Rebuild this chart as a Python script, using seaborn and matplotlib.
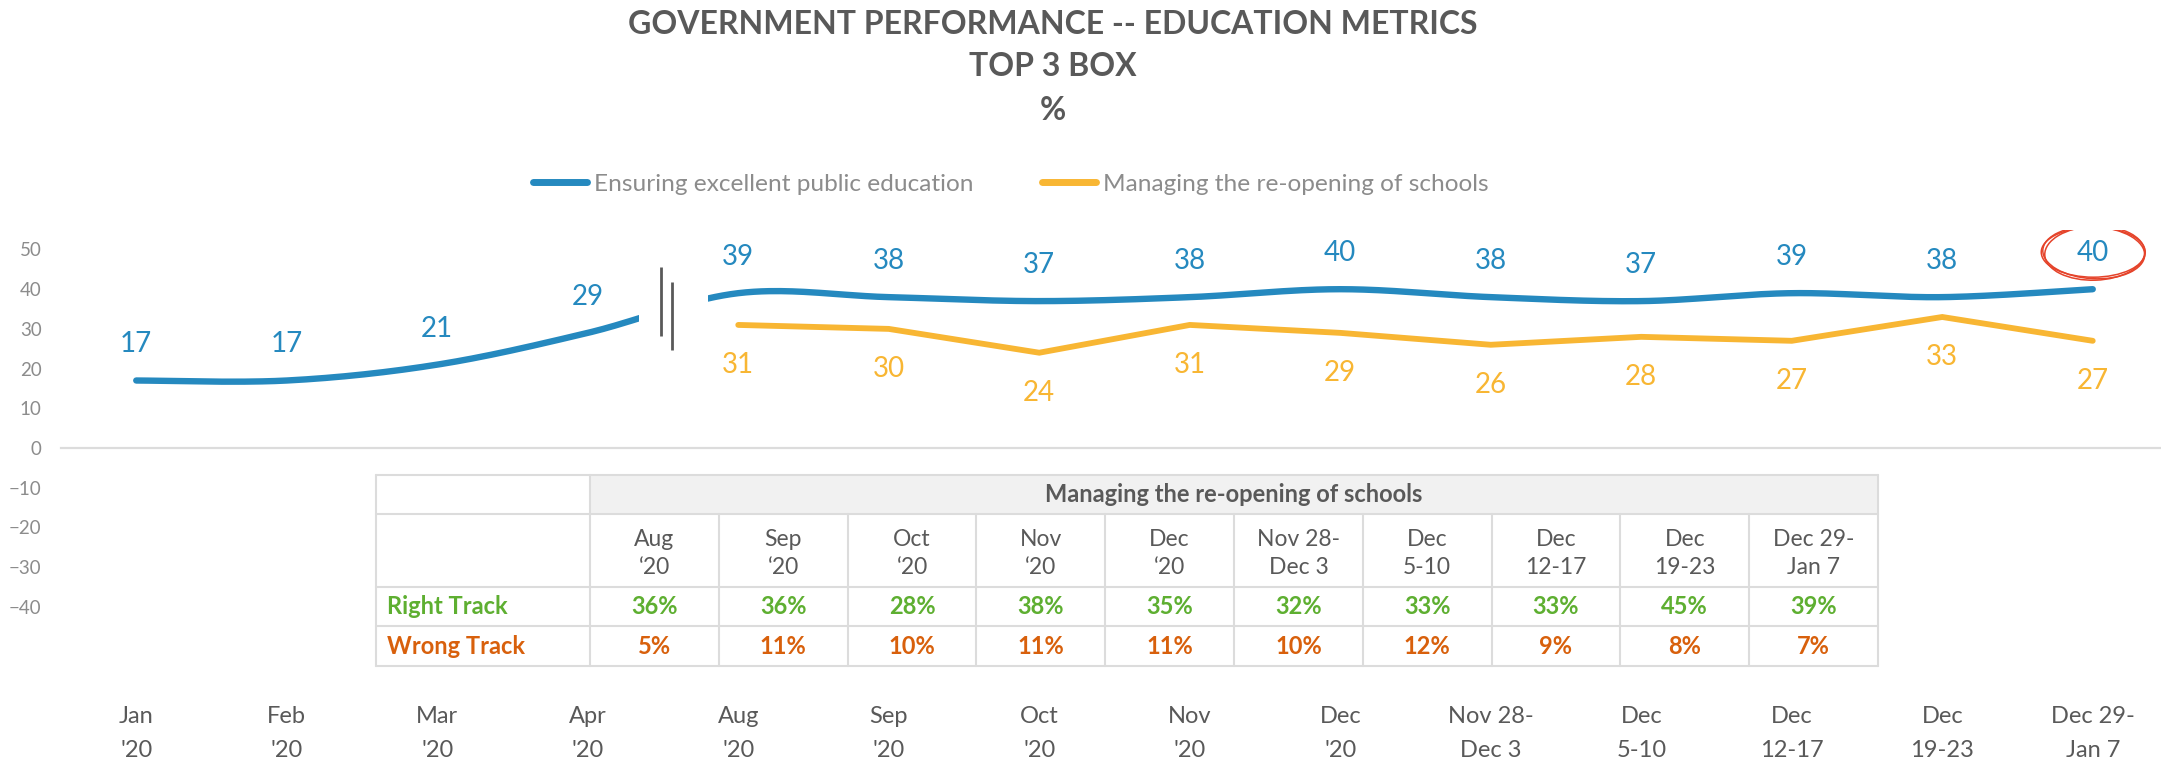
import numpy as np
import pandas as pd
import matplotlib
matplotlib.use("Agg")
import matplotlib.pyplot as plt
import matplotlib.transforms as mtransforms
import seaborn as sns
from matplotlib.patches import Rectangle, Ellipse
from matplotlib.lines import Line2D

# ---------------- data ----------------
categories = ["Jan\n'20", "Feb\n'20", "Mar\n'20", "Apr\n'20", "Aug\n'20", "Sep\n'20",
              "Oct\n'20", "Nov\n'20", "Dec\n'20", "Nov 28-\nDec 3", "Dec\n5-10",
              "Dec\n12-17", "Dec\n19-23", "Dec 29-\nJan 7"]
education = [17, 17, 21, 29, 39, 38, 37, 38, 40, 38, 37, 39, 38, 40]
reopening = [None, None, None, None, 31, 30, 24, 31, 29, 26, 28, 27, 33, 27]

table_title = "Managing the re-opening of schools"
table_dates = ["Aug\n\u201820", "Sep\n\u201820", "Oct\n\u201820", "Nov\n\u201820", "Dec\n\u201820",
               "Nov 28-\nDec 3", "Dec\n5-10", "Dec\n12-17", "Dec\n19-23", "Dec 29-\nJan 7"]
right_track = [36, 36, 28, 38, 35, 32, 33, 33, 45, 39]
wrong_track = [5, 11, 10, 11, 11, 10, 12, 9, 8, 7]

series_names = ["Ensuring excellent public education", "Managing the re-opening of schools"]
title_lines = ["GOVERNMENT PERFORMANCE -- EDUCATION METRICS", "TOP 3 BOX", "%"]

# ---------------- style ----------------
sns.set_theme(style="white")
plt.rcParams["font.family"] = ["Lato", "DejaVu Sans"]

BLUE = "#2589BF"
ORANGE = "#F8B633"
GRAY = "#595959"
LGRAY = "#8C8C8C"
GRID = "#DCDCDC"
GREEN = "#5EAF31"
RED_O = "#D8600C"

W, H = 2161, 767
fig = plt.figure(figsize=(W / 100, H / 100), dpi=100)


def fx(px):
    return px / W


def fy(py):
    return 1 - py / H


# axes: x from 61 px to 2168 px, y 0 at 448 px (39.7 px per 10)
ylo, yhi = -60, 55
unit = 3.97
top_px = 448 - yhi * unit
bot_px = 448 - ylo * unit
ax = fig.add_axes([fx(61), fy(bot_px), (2168 - 61) / W, (bot_px - top_px) / H])

x = np.arange(len(categories))


def smooth(xs, ys, n=40):
    pts = np.column_stack([xs, ys]).astype(float)
    P = np.vstack([pts[0], pts, pts[-1]])
    out = []
    t = np.linspace(0, 1, n)[:, None]
    for i in range(1, len(P) - 2):
        p0, p1, p2, p3 = P[i - 1], P[i], P[i + 1], P[i + 2]
        c1 = p1 + (p2 - p0) / 6
        c2 = p2 - (p3 - p1) / 6
        b = (1 - t) ** 3 * p1 + 3 * (1 - t) ** 2 * t * c1 + 3 * (1 - t) * t ** 2 * c2 + t ** 3 * p2
        out.append(b if i == 1 else b[1:])
    return np.vstack(out)


curve = smooth(x, education)
df_blue = pd.DataFrame({"x": curve[:, 0], "y": curve[:, 1]})
sns.lineplot(data=df_blue, x="x", y="y", ax=ax, color=BLUE, lw=4.6, sort=False,
             solid_capstyle="round", zorder=3)

df_or = pd.DataFrame({"x": x, "y": reopening}).dropna()
sns.lineplot(data=df_or, x="x", y="y", ax=ax, color=ORANGE, lw=4.2,
             solid_capstyle="round", solid_joinstyle="miter", zorder=3)

# series break between Apr and Aug
brk = 3.5
ax.add_patch(Rectangle((brk - 0.16, 20), 0.46, 28, facecolor="white", edgecolor="none", zorder=4))
ax.plot([brk - 0.013, brk - 0.013], [28.2, 45.6], color=GRAY, lw=2, zorder=5, solid_capstyle="butt")
ax.plot([brk + 0.063, brk + 0.063], [24.7, 41.8], color=GRAY, lw=2, zorder=5, solid_capstyle="butt")

# data labels
for xi, v in zip(x, education):
    ax.annotate(f"{v}", (xi, v), xytext=(0, 26), textcoords="offset points",
                ha="center", va="center", color=BLUE, fontsize=20, zorder=6)
for xi, v in zip(x, reopening):
    if v is None:
        continue
    ax.annotate(f"{v}", (xi, v), xytext=(0, -29), textcoords="offset points",
                ha="center", va="center", color=ORANGE, fontsize=20, zorder=6)

# hand-drawn red circle around the last label (sizes in inches, anchored at the last point)
xl, vl = x[-1], education[-1]
etrans = fig.dpi_scale_trans + mtransforms.ScaledTranslation(xl, vl, ax.transData)
for dx, dy, w, h, ang in [(0.01, 0.365, 1.02, 0.52, -3), (0.02, 0.36, 1.0, 0.54, 2),
                          (0.005, 0.37, 1.04, 0.50, 0)]:
    ax.add_patch(Ellipse((dx, dy), w, h, angle=ang, fill=False, transform=etrans,
                         edgecolor="#E5432A", lw=1.1, zorder=6))

# axes styling
ax.set_xlim(-0.5, len(categories) - 0.5)
ax.set_ylim(ylo, yhi)
ax.set_yticks([50, 40, 30, 20, 10, 0, -10, -20, -30, -40])
ax.tick_params(axis="y", length=0, pad=14, labelsize=13.5, labelcolor=LGRAY)
for s in ["left", "right", "top"]:
    ax.spines[s].set_visible(False)
ax.spines["bottom"].set_position(("data", 0))
ax.spines["bottom"].set_color(GRID)
ax.spines["bottom"].set_linewidth(1.6)
ax.set_xticks(x)
ax.set_xticklabels(categories, linespacing=1.75)
ax.set_xticks(np.arange(-0.5, len(categories), 1.0), minor=True)
ax.tick_params(axis="x", which="major", length=0, pad=186, labelsize=17, labelcolor=GRAY)
ax.tick_params(axis="x", which="minor", length=7, width=1.6, color=GRID, direction="out")
ax.set_xlabel("")
ax.set_ylabel("")
ax.grid(False)

# title
for txt, py in zip(title_lines, [24, 67, 110]):
    fig.text(fx(1053), fy(py), txt, ha="center", va="center", fontsize=23,
             fontweight="bold", color=GRAY)

# legend
handles = [Line2D([0], [0], color=BLUE, lw=5, solid_capstyle="round"),
           Line2D([0], [0], color=ORANGE, lw=5, solid_capstyle="round")]
leg = fig.legend(handles, series_names, loc="center", bbox_to_anchor=(fx(1011), fy(184)),
                 ncol=2, frameon=False, fontsize=17.6, handlelength=2.2, handletextpad=0.3,
                 columnspacing=2.8, labelcolor=LGRAY)

# ---------------- table ----------------
tx0, tx1 = 376, 1878
col0 = 590
ncol = len(table_dates)
cw = (tx1 - col0) / ncol
rows = [475, 514, 587, 626, 666]

fig.add_artist(Rectangle((fx(col0), fy(rows[1])), (tx1 - col0) / W, (rows[1] - rows[0]) / H,
                         transform=fig.transFigure, facecolor="#F1F1F1", edgecolor="none", zorder=1))
lw_t = 1.5
for r in rows:
    fig.add_artist(Line2D([fx(tx0), fx(tx1)], [fy(r), fy(r)], transform=fig.transFigure,
                          color=GRID, lw=lw_t, zorder=2))
for xx in [tx0, col0, tx1]:
    fig.add_artist(Line2D([fx(xx), fx(xx)], [fy(rows[0]), fy(rows[-1])], transform=fig.transFigure,
                          color=GRID, lw=lw_t, zorder=2))
for j in range(1, ncol):
    xx = col0 + j * cw
    fig.add_artist(Line2D([fx(xx), fx(xx)], [fy(rows[1]), fy(rows[-1])], transform=fig.transFigure,
                          color=GRID, lw=lw_t, zorder=2))

fig.text(fx((col0 + tx1) / 2), fy((rows[0] + rows[1]) / 2), table_title, ha="center", va="center",
         fontsize=17, fontweight="bold", color=GRAY, zorder=3)
for j, d in enumerate(table_dates):
    cx = col0 + (j + 0.5) * cw
    fig.text(fx(cx), fy((rows[1] + rows[2]) / 2 + 3), d, ha="center", va="center", fontsize=16.5,
             color=GRAY, linespacing=1.45, zorder=3)
    fig.text(fx(cx), fy((rows[2] + rows[3]) / 2), f"{right_track[j]}%", ha="center", va="center",
             fontsize=17, fontweight="bold", color=GREEN, zorder=3)
    fig.text(fx(cx), fy((rows[3] + rows[4]) / 2), f"{wrong_track[j]}%", ha="center", va="center",
             fontsize=17, fontweight="bold", color=RED_O, zorder=3)
fig.text(fx(387), fy((rows[2] + rows[3]) / 2), "Right Track", ha="left", va="center",
         fontsize=17, fontweight="bold", color=GREEN, zorder=3)
fig.text(fx(387), fy((rows[3] + rows[4]) / 2), "Wrong Track", ha="left", va="center",
         fontsize=17, fontweight="bold", color=RED_O, zorder=3)

fig.savefig("out.png", dpi=100, facecolor="white")
